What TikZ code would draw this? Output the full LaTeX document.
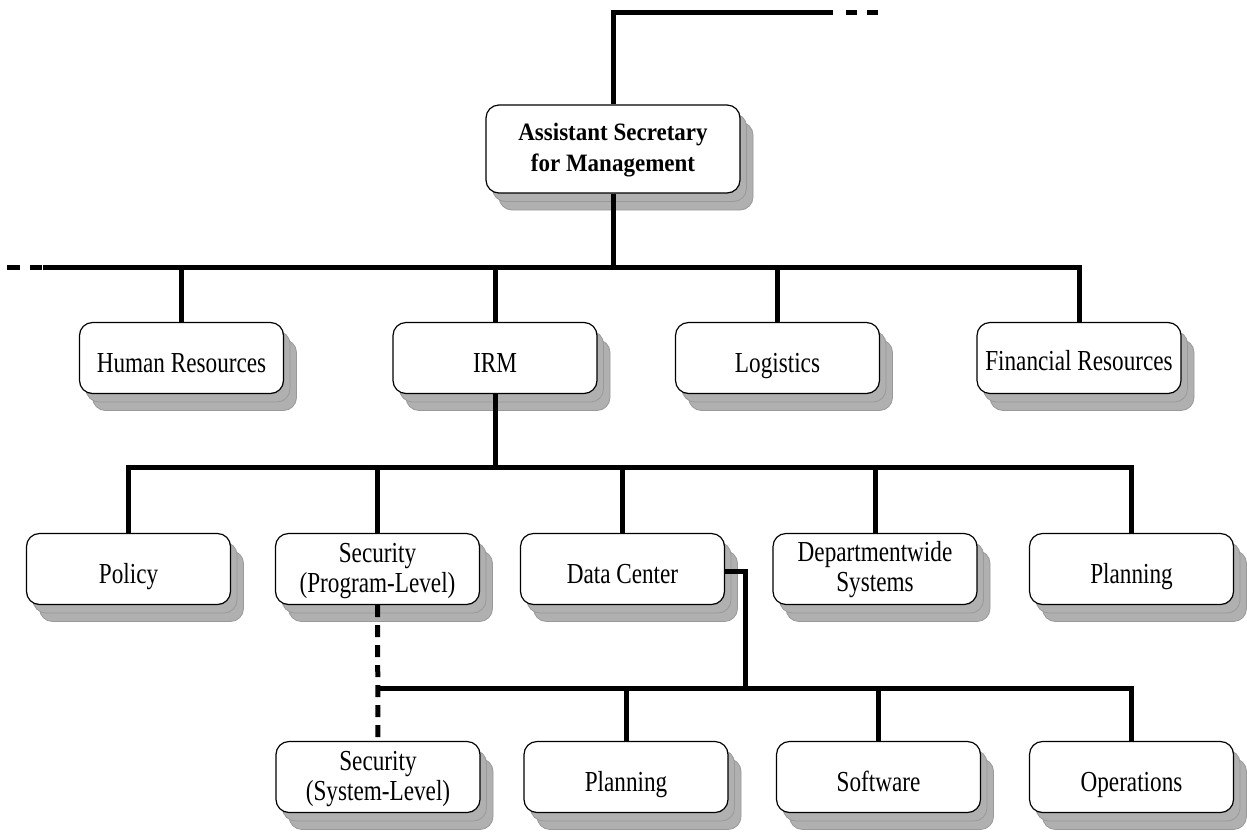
\documentclass[tikz,border=0pt]{standalone}
\usepackage{fontspec}
\setmainfont{Liberation Serif}
\newfontfamily\unitfont[FakeStretch=0.8]{Liberation Serif}
\newfontfamily\headfont[FakeStretch=0.92]{Liberation Serif}
\usetikzlibrary{shadows}
\begin{document}
\begin{tikzpicture}[x=1pt,y=-1pt,
  unitbox/.style={draw=black, line width=1.2pt, rounded corners=13pt, fill=white,
    inner sep=0pt, minimum width=204pt, minimum height=71pt,
    double copy shadow={shadow xshift=6.5pt, shadow yshift=-8.5pt, fill=gray!62, draw=gray!80, line width=0.8pt}},
  unittext/.style={font=\unitfont\fontsize{29}{30}\selectfont, align=center, inner sep=0pt},
  link/.style={line width=5pt, draw=black},
  dashlink/.style={line width=5pt, draw=black, dash pattern=on 12pt off 8pt}]
\useasboundingbox (0,0) rectangle (1247,831);

% boxes
\node[unitbox, minimum width=254pt, minimum height=88pt] (asm) at (613,149) {};
\node[unitbox] (hr)   at (181.5,358) {};
\node[unitbox] (irm)  at (495,358) {};
\node[unitbox] (log)  at (777.5,358) {};
\node[unitbox] (fin)  at (1079,358) {};
\node[unitbox] (pol)  at (128.5,569) {};
\node[unitbox] (secp) at (377.5,569) {};
\node[unitbox] (dc)   at (622.5,569) {};
\node[unitbox] (dw)   at (875,569) {};
\node[unitbox] (plan) at (1131.5,569) {};
\node[unitbox] (secs) at (378,777) {};
\node[unitbox] (plant) at (626,777) {};
\node[unitbox] (soft) at (878.5,777) {};
\node[unitbox] (ops)  at (1131.5,777) {};

% texts
\node[unittext, font=\headfont\fontsize{25}{31}\selectfont\bfseries] (asmt) at ([yshift=-1pt]asm.center) {Assistant Secretary\\for Management};
\node[unittext, anchor=base] (hrt)   at ([yshift=-14pt]hr.center) {Human Resources};
\node[unittext, anchor=base] (irmt)  at ([yshift=-14pt]irm.center) {IRM};
\node[unittext, anchor=base] (logt)  at ([yshift=-14pt]log.center) {Logistics};
\node[unittext, anchor=base] (fint)  at ([yshift=-12.5pt]fin.center) {Financial Resources};
\node[unittext, anchor=base] (polt)  at ([yshift=-14pt]pol.center) {Policy};
\node[unittext] (secpt) at ([yshift=-2pt]secp.center) {Security\\(Program-Level)};
\node[unittext, anchor=base] (dct)   at ([yshift=-14pt]dc.center) {Data Center};
\node[unittext] (dwt)   at ([yshift=-1pt]dw.center) {Departmentwide\\Systems};
\node[unittext, anchor=base] (plant1) at ([yshift=-14pt]plan.center) {Planning};
\node[unittext] (secst) at ([yshift=-2pt]secs.center) {Security\\(System-Level)};
\node[unittext, anchor=base] (plantt) at ([yshift=-14pt]plant.center) {Planning};
\node[unittext, anchor=base] (softt) at ([yshift=-14pt]soft.center) {Software};
\node[unittext, anchor=base] (opst)  at ([yshift=-14pt]ops.center) {Operations};

% coordinates
\coordinate (topr) at (833,12);
\coordinate (topd1) at (846,12);
\coordinate (topd2) at (878,12);
\coordinate (b1) at (43,267);
\coordinate (ld1) at (7,267);
\coordinate (ld2) at (42,267);
\coordinate (b2) at (0,467);
\coordinate (b3) at (0,688);
\coordinate (dcdrop) at (745,688);

% top
\draw[link] (asm.north) |- (topr);
\draw[link, dash pattern=on 11pt off 10pt] (topd1) -- (topd2);

% level 1 bar
\draw[link] (asm.south) -- (asm.south |- b1);
\draw[link] (b1) -| (fin.north);
\draw[link, dash pattern=on 13pt off 10pt] (ld1) -- (ld2);
\draw[link] (hr.north) -- (hr.north |- b1);
\draw[link] (irm.north) -- (irm.north |- b1);
\draw[link] (log.north) -- (log.north |- b1);

% level 2 bar
\draw[link] (irm.south) -- (irm.south |- b2);
\draw[link] (pol.north) |- (plan.north |- b2) -- (plan.north);
\draw[link] (secp.north) -- (secp.north |- b2);
\draw[link] (dc.north) -- (dc.north |- b2);
\draw[link] (dw.north) -- (dw.north |- b2);

% level 3 bar
\draw[link] ([yshift=-2pt]dc.east) -| (dcdrop);
\draw[link] (secs.north |- b3) -| (ops.north);
\draw[link] (plant.north) -- (plant.north |- b3);
\draw[link] (soft.north) -- (soft.north |- b3);
\draw[dashlink] (secp.south) -- (secs.north);
\end{tikzpicture}
\end{document}
